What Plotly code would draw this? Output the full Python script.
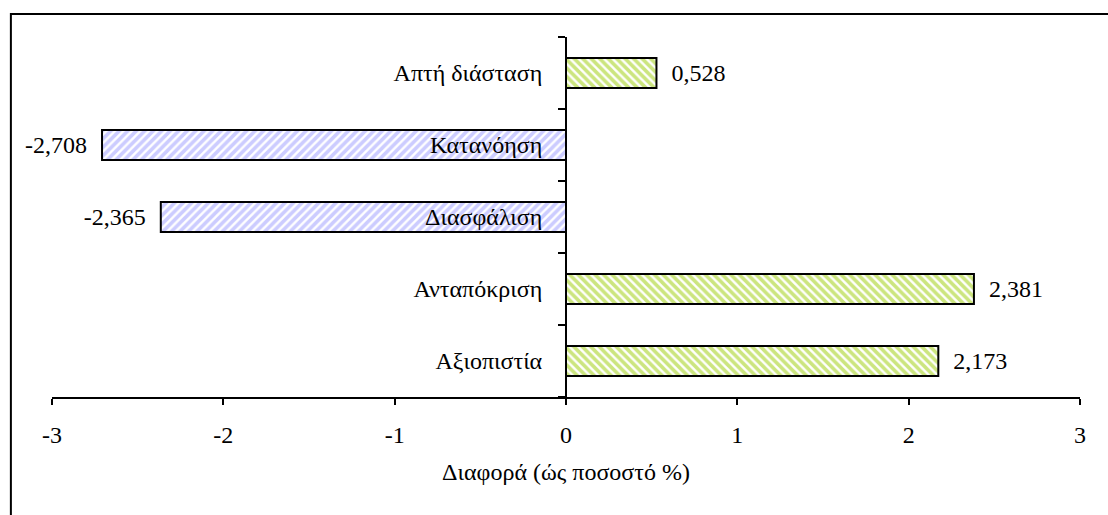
import plotly.graph_objects as go

categories = ["Αξιοπιστία", "Ανταπόκριση", "Διασφάλιση", "Κατανόηση", "Απτή διάσταση"]
values = [2.173, 2.381, -2.365, -2.708, 0.528]
x_ticks = [-3, -2, -1, 0, 1, 2, 3]
x_title = "Διαφορά (ώς ποσοστό %)"

NB = "\u00a0"
FONT = "Liberation Serif, Times New Roman, serif"
FS = 24

def fmt(v):
    return f"{v:.3f}".replace(".", ",")

pos_cat = [c for c, v in zip(categories, values) if v >= 0]
pos_val = [v for v in values if v >= 0]
neg_cat = [c for c, v in zip(categories, values) if v < 0]
neg_val = [v for v in values if v < 0]

fig = go.Figure()
fig.add_trace(go.Bar(
    y=pos_cat, x=pos_val, orientation="h", width=0.42,
    marker=dict(color="white", line=dict(color="black", width=2),
                pattern=dict(shape="\\", fgcolor="#99CC00", bgcolor="white",
                             size=6, solidity=0.6)),
    text=[NB * 2 + fmt(v) for v in pos_val], textposition="outside",
    textfont=dict(family=FONT, size=FS, color="black"),
    cliponaxis=False, showlegend=False,
))
fig.add_trace(go.Bar(
    y=neg_cat, x=neg_val, orientation="h", width=0.42,
    marker=dict(color="white", line=dict(color="black", width=2),
                pattern=dict(shape="/", fgcolor="#9999FF", bgcolor="white",
                             size=6, solidity=0.6)),
    text=[fmt(v) + NB * 2 for v in neg_val], textposition="outside",
    textfont=dict(family=FONT, size=FS, color="black"),
    cliponaxis=False, showlegend=False,
))

fig.update_layout(
    width=1108, height=515,
    margin=dict(l=52, r=28, t=37, b=118),
    paper_bgcolor="white", plot_bgcolor="white",
    barmode="overlay",
    font=dict(family=FONT, size=FS, color="black"),
    xaxis=dict(range=[-3, 3], tickvals=x_ticks, ticktext=[str(t) for t in x_ticks],
               showgrid=False, zeroline=False, showline=True, linecolor="black",
               linewidth=2, ticks="outside", ticklen=6, tickwidth=2, tickcolor="black",
               ticklabelstandoff=9, tickfont=dict(family=FONT, size=FS),
               title=dict(text=x_title, font=dict(family=FONT, size=FS), standoff=16)),
    yaxis=dict(type="category", categoryorder="array", categoryarray=categories,
               range=[-0.5, 4.5],
               anchor="free", position=0.5, showgrid=False, zeroline=False,
               showline=True, linecolor="black", linewidth=2,
               ticks="outside", tickson="boundaries", ticklen=7, tickwidth=2,
               tickcolor="black", ticklabelstandoff=18,
               tickfont=dict(family=FONT, size=FS)),
    shapes=[dict(type="rect", xref="paper", yref="paper",
                 x0=-0.04, y0=-0.6, x1=1.2, y1=1.064,
                 line=dict(color="black", width=2), layer="below")],
)

fig.write_html("out.html", config={"displayModeBar": False},
               post_script="document.body.style.margin='0';document.body.style.padding='0';")
